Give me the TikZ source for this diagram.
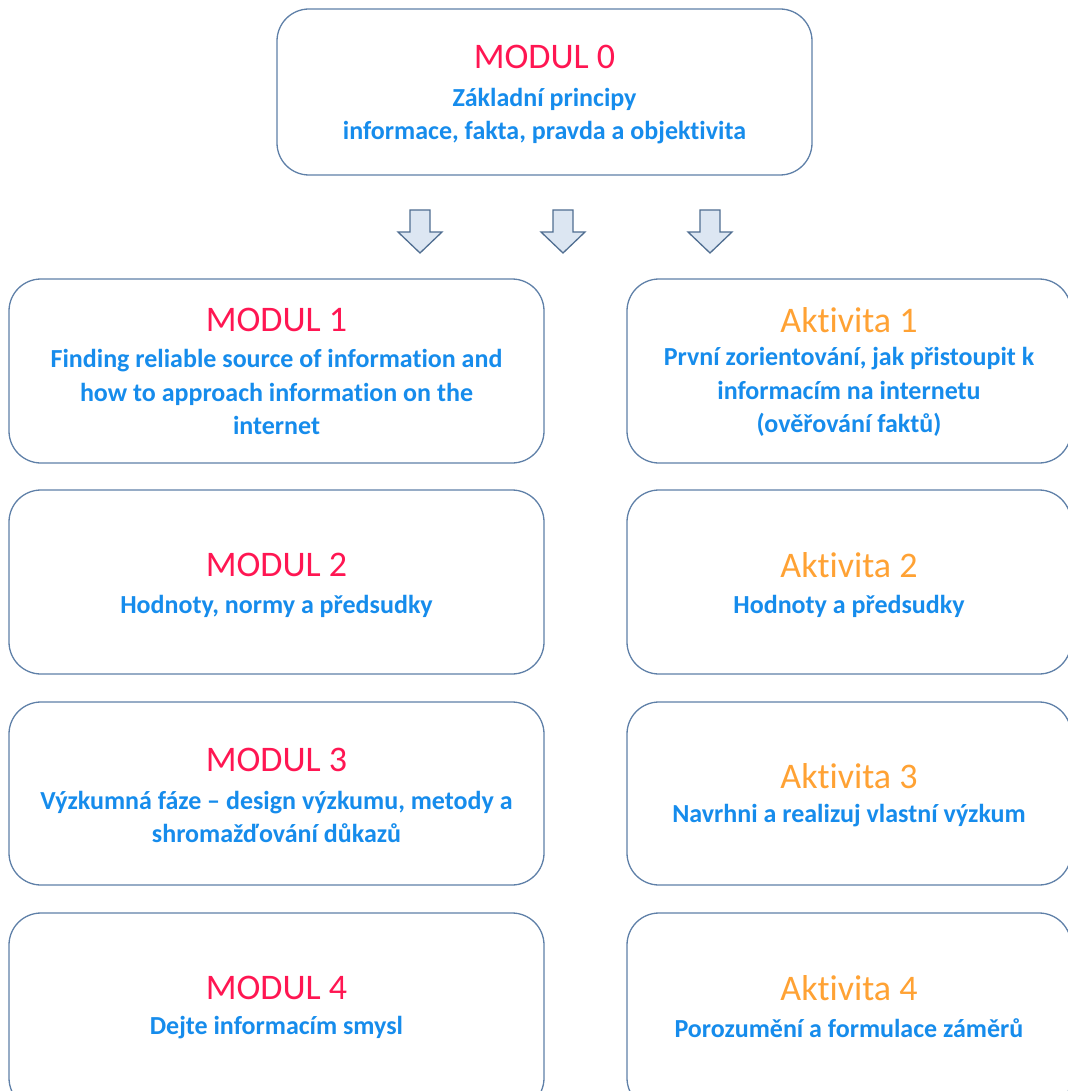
\documentclass[tikz,border=0pt]{standalone}
\usepackage{fontspec}
\setmainfont{Carlito}[Ligatures={NoCommon}]
\definecolor{boxline}{RGB}{95,128,168}
\definecolor{titlered}{RGB}{255,22,82}
\definecolor{titleorange}{RGB}{255,162,52}
\definecolor{bodyblue}{RGB}{22,140,236}
\definecolor{arrowfill}{RGB}{220,230,242}
\definecolor{arrowline}{RGB}{80,110,145}
\begin{document}
\begin{tikzpicture}[x=1pt,y=-1pt,
  card/.style={draw=boxline,line width=1.3pt,rounded corners=32pt,fill=white},
  ttl/.style={font=\fontsize{36}{40}\selectfont,anchor=center,inner sep=0pt},
  body/.style={font=\bfseries\fontsize{26}{33.5}\selectfont,text=bodyblue,align=center,anchor=center,inner sep=0pt},
  downarrow/.style={draw=arrowline,line width=1.3pt,fill=arrowfill,line join=miter}]
\useasboundingbox (0,0) rectangle (1067,1091);
% boxes
\draw[card] (277,9) rectangle (812,175);
\draw[card] (9,279) rectangle (544,463);
\draw[card] (627,279) rectangle (1071,463);
\draw[card] (9,490) rectangle (544,674);
\draw[card] (627,490) rectangle (1071,674);
\draw[card] (9,702) rectangle (544,885);
\draw[card] (627,702) rectangle (1071,885);
\draw[card] (9,913) rectangle (544,1110);
\draw[card] (627,913) rectangle (1071,1110);
% arrows
\foreach \cx in {420,563,710}{
  \draw[downarrow] (\cx-10,210) -- (\cx+10,210) -- (\cx+10,232) -- (\cx+22,232) -- (\cx,253) -- (\cx-22,232) -- (\cx-10,232) -- cycle;
}
% texts
\node[ttl,text=titlered] (t0) at (544.5,57) {MODUL 0};
\node[body] (b0) at (544.5,116) {Základní principy\\informace, fakta, pravda a objektivita};
\node[ttl,text=titlered] (t1) at (276.5,320) {MODUL 1};
\node[body] (b1) at (276.5,392) {Finding reliable source of information and\\how to approach information on the\\internet};
\node[ttl,text=titleorange] (a1) at (849,320) {Aktivita 1};
\node[body] (c1) at (849,392) {První zorientování, jak přistoupit k\\informacím na internetu\\(ověřování faktů)};
\node[ttl,text=titlered] (t2) at (276.5,565) {MODUL 2};
\node[body] (b2) at (276.5,606) {Hodnoty, normy a předsudky};
\node[ttl,text=titleorange] (a2) at (849,565) {Aktivita 2};
\node[body] (c2) at (849,606) {Hodnoty a předsudky};
\node[ttl,text=titlered] (t3) at (276.5,760) {MODUL 3};
\node[body] (b3) at (276.5,817) {Výzkumná fáze – design výzkumu, metody a\\shromažďování důkazů};
\node[ttl,text=titleorange] (a3) at (849,776) {Aktivita 3};
\node[body] (c3) at (849,816) {Navrhni a realizuj vlastní výzkum};
\node[ttl,text=titlered] (t4) at (276.5,988) {MODUL 4};
\node[body] (b4) at (276.5,1028) {Dejte informacím smysl};
\node[ttl,text=titleorange] (a4) at (849,988) {Aktivita 4};
\node[body] (c4) at (849,1028) {Porozumění a formulace záměrů};
\end{tikzpicture}
\end{document}
